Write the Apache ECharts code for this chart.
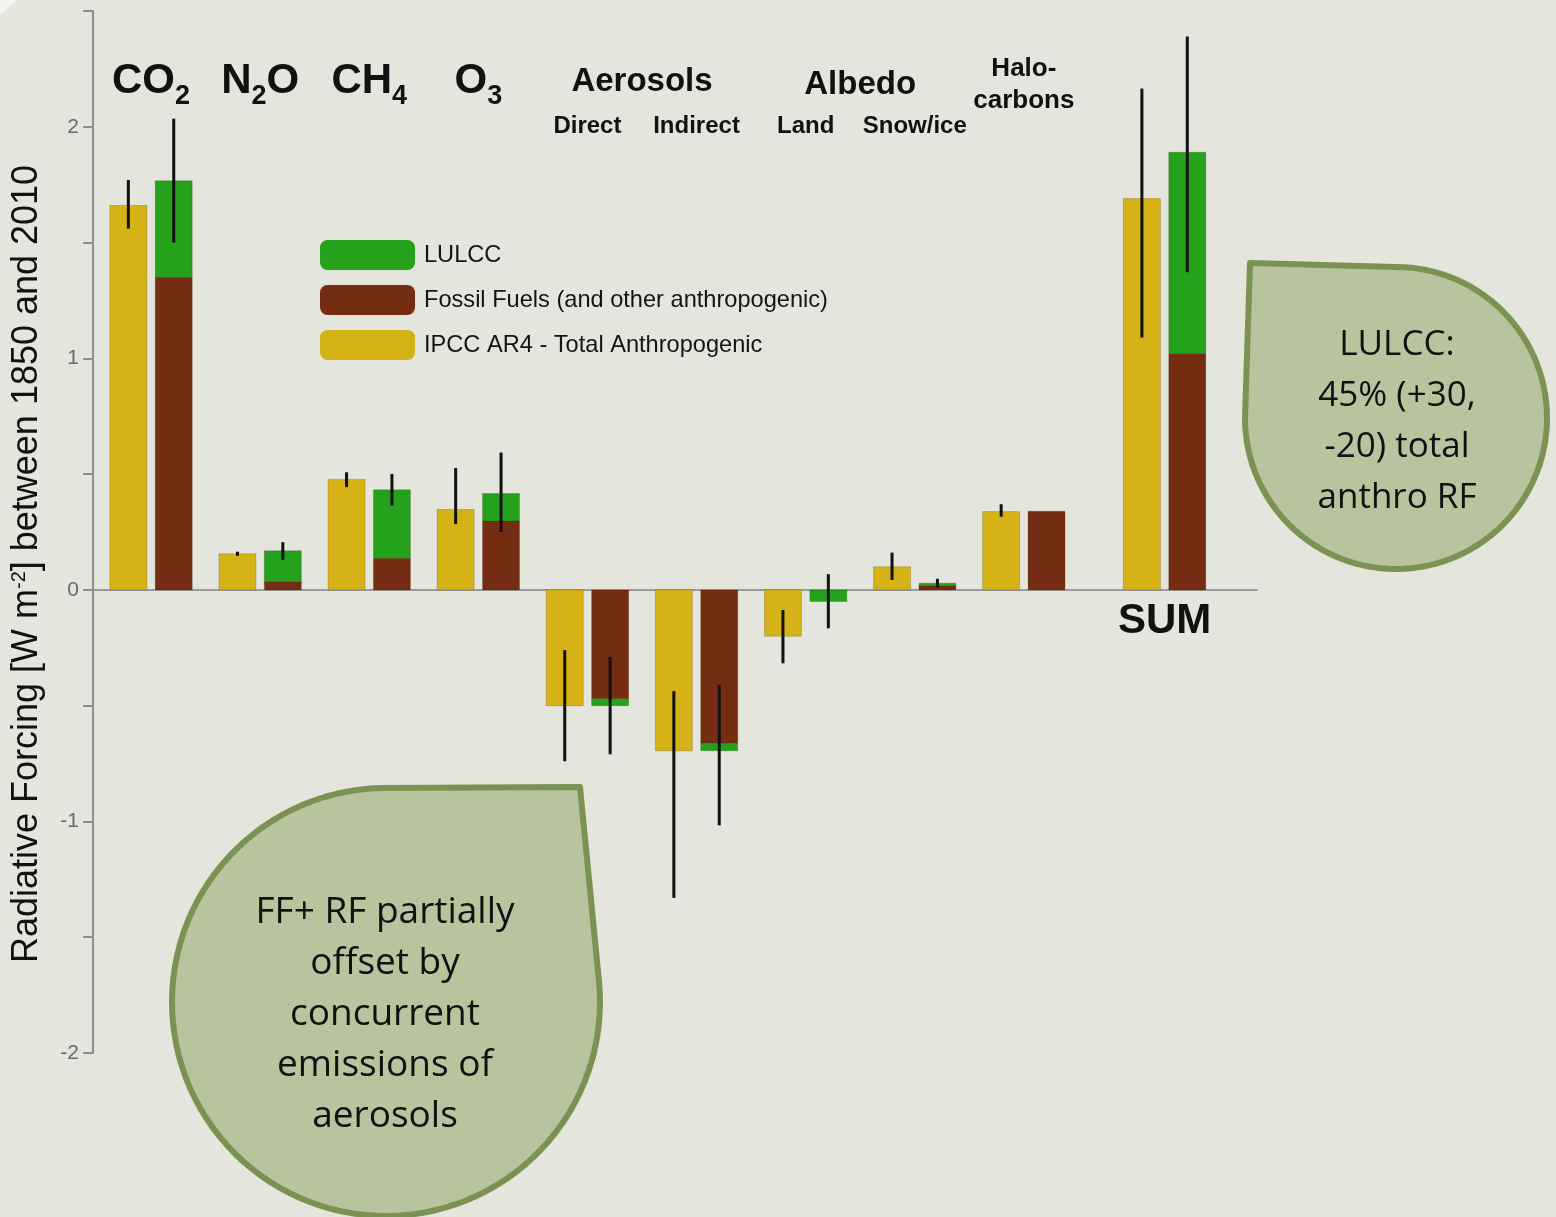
<!DOCTYPE html>
<html>
<head>
<meta charset="utf-8">
<script src="https://cdn.jsdelivr.net/npm/echarts@6/dist/echarts.min.js"></script>
<style>
html,body{margin:0;padding:0;background:#E4E5DC;}
#chart{width:1556px;height:1217px;}
</style>
</head>
<body>
<div id="chart"></div>
<script>
// ---------------- data (W m-2, 1850-2010) ----------------
const categories = ['CO2', 'N2O', 'CH4', 'O3', 'Aerosols Direct', 'Aerosols Indirect',
                    'Albedo Land', 'Albedo Snow/ice', 'Halocarbons', 'SUM'];
// IPCC AR4 total anthropogenic
const ipccTotal = [1.66, 0.156, 0.477, 0.347, -0.50, -0.695, -0.20, 0.10, 0.338, 1.69];
const ipccLow   = [1.56, 0.147, 0.444, 0.284, -0.74, -1.33, -0.317, 0.043, 0.316, 1.09];
const ipccHigh  = [1.77, 0.165, 0.508, 0.526, -0.26, -0.437, -0.087, 0.161, 0.37, 2.165];
// Fossil fuels (and other anthropogenic) + LULCC (stacked)
const fossilFuels = [1.35, 0.036, 0.137, 0.297, -0.47, -0.663, 0, 0.019, 0.34, 1.021];
const lulcc       = [0.417, 0.133, 0.295, 0.119, -0.03, -0.032, -0.05, 0.01, 0, 0.869];
const stackLow    = [1.50, 0.13, 0.364, 0.25, -0.71, -1.017, -0.166, 0.01, null, 1.372];
const stackHigh   = [2.035, 0.206, 0.501, 0.593, -0.29, -0.41, 0.068, 0.048, null, 2.39];
// axis
const yMin = -2, yMax = 2.5, yStep = 0.5;
const legendNames = ['LULCC', 'Fossil Fuels (and other anthropogenic)', 'IPCC AR4 - Total Anthropogenic'];

// ---------------- layout / style ----------------
const COL = { ipcc: '#D5B316', ff: '#742C12', lulcc: '#25A21C' };
const FAM = "'Liberation Sans'";
const F = FAM + ", Arial, sans-serif";
const SUM_GAP = 0.29;      // extra spacing before the SUM group
const BAR_W = 0.339;       // bar width in group units
const OFF = 0.208;         // offset of each bar from group centre
const xPos = categories.map((c, i) => (c === 'SUM' ? i + SUM_GAP : i));

const chart = echarts.init(document.getElementById('chart'), null, { renderer: 'canvas' });

function rectRender(color, offset) {
  return function (params, api) {
    const x = api.value(0) + offset;
    const a = api.coord([x, api.value(1)]);
    const b = api.coord([x, api.value(2)]);
    const w = api.size([BAR_W, 0])[0];
    const h = Math.abs(a[1] - b[1]);
    if (h < 0.2) return null;
    return {
      type: 'rect',
      shape: { x: a[0] - w / 2, y: Math.min(a[1], b[1]), width: w, height: h },
      style: { fill: color, stroke: 'rgba(60,40,0,0.22)', lineWidth: 1 }
    };
  };
}
function errRender(offset) {
  return function (params, api) {
    const x = api.value(0) + offset;
    const a = api.coord([x, api.value(1)]);
    const b = api.coord([x, api.value(2)]);
    return {
      type: 'line',
      shape: { x1: a[0], y1: a[1], x2: b[0], y2: b[1] },
      style: { stroke: '#111', lineWidth: 3 }
    };
  };
}

const ipccData = categories.map((c, i) => [xPos[i], 0, ipccTotal[i]]);
const ffData = categories.map((c, i) => [xPos[i], 0, fossilFuels[i]]);
const luData = categories.map((c, i) => [xPos[i], fossilFuels[i], fossilFuels[i] + lulcc[i]]);
const ipccErr = categories.map((c, i) => [xPos[i], ipccLow[i], ipccHigh[i]]);
const stackErr = categories.map((c, i) => [xPos[i], stackLow[i], stackHigh[i]]).filter(d => d[1] !== null);

const option = {
  backgroundColor: '#E4E5DC',
  animation: false,
  grid: { left: 93, right: 299, top: 11, bottom: 164, containLabel: false },
  xAxis: {
    type: 'value', min: -0.532, max: 10.137,
    axisLine: { show: true, onZero: true, lineStyle: { color: '#9a9a9a', width: 2 } },
    axisTick: { show: false }, axisLabel: { show: false }, splitLine: { show: false }
  },
  yAxis: {
    type: 'value', min: yMin, max: yMax, interval: yStep,
    axisLine: { show: true, onZero: false, lineStyle: { color: '#8e8e8e', width: 2 } },
    axisTick: { show: true, length: 10, lineStyle: { color: '#8e8e8e', width: 2 } },
    axisLabel: {
      formatter: v => (Number.isInteger(v) ? String(v) : ''),
      color: '#6a6a6a', fontSize: 21, fontFamily: F, margin: 14
    },
    splitLine: { show: false }
  },
  legend: {
    orient: 'vertical', left: 320, top: 240, padding: 0,
    itemWidth: 95, itemHeight: 30, itemGap: 15, icon: 'roundRect',
    selectedMode: false,
    textStyle: { fontSize: 23.6, fontFamily: F, color: '#141414', padding: [0, 0, 0, 4] },
    data: legendNames
  },
  series: [
    { name: legendNames[2], type: 'custom', renderItem: rectRender(COL.ipcc, -OFF),
      itemStyle: { color: COL.ipcc }, encode: { x: 0, y: [1, 2] }, data: ipccData },
    { name: legendNames[1], type: 'custom', renderItem: rectRender(COL.ff, OFF),
      itemStyle: { color: COL.ff }, encode: { x: 0, y: [1, 2] }, data: ffData },
    { name: legendNames[0], type: 'custom', renderItem: rectRender(COL.lulcc, OFF),
      itemStyle: { color: COL.lulcc }, encode: { x: 0, y: [1, 2] }, data: luData },
    { name: 'ipccErr', type: 'custom', renderItem: errRender(-OFF), z: 5,
      encode: { x: 0, y: [1, 2] }, data: ipccErr },
    { name: 'stackErr', type: 'custom', renderItem: errRender(OFF), z: 5,
      encode: { x: 0, y: [1, 2] }, data: stackErr }
  ]
};
chart.setOption(option);

// ---------------- header labels & annotations ----------------
const px = i => chart.convertToPixel({ xAxisIndex: 0 }, xPos[i]);
const gx = (i, j) => (px(i) + px(j)) / 2;
const mctx = document.createElement('canvas').getContext('2d');
function textW(t, size) { mctx.font = 'bold ' + size + 'px ' + F; return mctx.measureText(t).width; }

const MAIN = 42, SUB = 27;
function formula(cx, parts) {   // parts: [text, isSubscript]
  const widths = parts.map(p => textW(p[0], p[1] ? SUB : MAIN));
  const total = widths.reduce((a, b) => a + b, 0);
  let x = cx - total / 2;
  const els = [];
  parts.forEach((p, k) => {
    els.push({
      type: 'text', x: x, y: p[1] ? 97 : 81, z: 10,
      style: { text: p[0], align: 'left', verticalAlign: 'middle', fontSize: p[1] ? SUB : MAIN,
               fontWeight: 'bold', fontFamily: F, fill: '#111' }
    });
    x += widths[k];
  });
  return els;
}
function label(x, y, text, size) {
  return {
    type: 'text', x: x, y: y, z: 10,
    style: { text: text, align: 'center', verticalAlign: 'middle', fontSize: size,
             fontWeight: 'bold', fontFamily: F, fill: '#111', lineHeight: size + 6 }
  };
}
function teardrop(cx, cy, r, corner, a0, a1) {
  const pts = [corner];
  const n = 90;
  for (let k = 0; k <= n; k++) {
    const a = (a0 + (a1 - a0) * k / n) * Math.PI / 180;
    pts.push([cx + r * Math.cos(a), cy + r * Math.sin(a)]);
  }
  return pts;
}
const bubbleStyle = { fill: '#B7C49E', stroke: '#7B9352', lineWidth: 6, lineJoin: 'round' };
const bubbleFont = "'Open Sans', 'Liberation Sans', sans-serif";

const graphics = [
  { type: 'polygon', z: 1, shape: { points: [[0, 0], [17, 0], [0, 15]] }, style: { fill: '#F4F4F0' } },
  ...formula(px(0), [['CO', false], ['2', true]]),
  ...formula(px(1), [['N', false], ['2', true], ['O', false]]),
  ...formula(px(2), [['CH', false], ['4', true]]),
  ...formula(px(3), [['O', false], ['3', true]]),
  label(gx(4, 5), 82, 'Aerosols', 33),
  label(gx(6, 7), 85, 'Albedo', 33),
  label(px(4), 126, 'Direct', 24),
  label(px(5), 126, 'Indirect', 24),
  label(px(6), 126, 'Land', 24),
  label(px(7), 126, 'Snow/ice', 24),
  label(px(8), 85, 'Halo-\ncarbons', 26),
  label(px(9), 621, 'SUM', 42),
  {
    type: 'text', x: 29, y: 564, rotation: Math.PI / 2, z: 10,
    style: {
      text: '{m|Radiative Forcing [W m}{s|-2}{m|] between 1850 and 2010}',
      align: 'center', verticalAlign: 'middle',
      rich: {
        m: { fontSize: 36, fontFamily: F, fill: '#111', lineHeight: 40, verticalAlign: 'top' },
        s: { fontSize: 20, fontFamily: F, fill: '#111', lineHeight: 22, verticalAlign: 'top' }
      }
    }
  },
  { type: 'polygon', z: 20, shape: { points: teardrop(1396, 418, 151, [1250, 263], -90, 180) }, style: bubbleStyle },
  { type: 'polygon', z: 20, shape: { points: teardrop(386, 1002, 214, [580, 787], -5.2, 268.8) }, style: bubbleStyle },
  {
    type: 'text', x: 1397, y: 422, z: 21,
    style: { text: 'LULCC:\n45% (+30,\n-20) total\nanthro RF', align: 'center', verticalAlign: 'middle',
             fontSize: 35, lineHeight: 51, fontFamily: bubbleFont, fill: '#111' }
  },
  {
    type: 'text', x: 385, y: 1014, z: 21,
    style: { text: 'FF+ RF partially\noffset by\nconcurrent\nemissions of\naerosols', align: 'center', verticalAlign: 'middle',
             fontSize: 37, lineHeight: 51, fontFamily: bubbleFont, fill: '#111' }
  }
];
chart.setOption({ graphic: graphics });
</script>
</body>
</html>
